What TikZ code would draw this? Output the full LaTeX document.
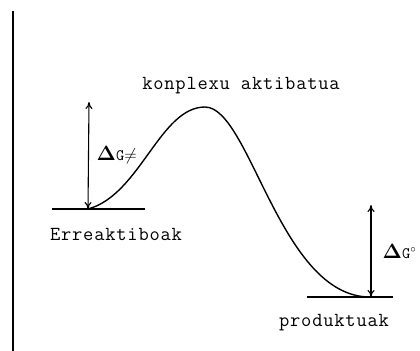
\documentclass[tikz,border=0pt]{standalone}
\usepackage{fontspec}
\usepackage{amsmath,amssymb}
\usetikzlibrary{arrows.meta}
\newfontfamily\twfont{Latin Modern Mono}[LetterSpace=4]
\newcommand{\tw}{\twfont\fontsize{20}{22}\selectfont}

\begin{document}
\begin{tikzpicture}[x=1bp,y=-1bp,line width=1.4pt,
    lbl/.style={inner sep=0pt,font=\tw},
    dg/.style={<->,line width=1.1pt,>={To[length=7pt,width=7pt]}}]
    \useasboundingbox (0,0) rectangle (420,351);

    % energy axis
    \draw[line width=2.2pt] (13,11) -- (13,351);

    % levels
    \coordinate (react) at (88,209);
    \coordinate (peak) at (205,107);
    \coordinate (prod) at (370,297);
    \draw[line width=1.6pt] (52,209) -- (145,209);
    \draw[line width=1.6pt] (307,297) -- (393,297);

    % reaction profile
    \draw (react) .. controls (140,195) and (160,107) .. (peak)
                  .. controls (250,107) and (280,297) .. (prod);

    % Delta G arrows
    \coordinate (reacttop) at (89,102);
    \coordinate (prodbase) at (371,297);
    \coordinate (prodtop) at (371,205);
    \draw[dg] (react) -- (reacttop);
    \draw[dg] (prodbase) -- (prodtop);

    \node[lbl] (komplex) at (241,86) {konplexu aktibatua};
    \node[lbl] (erreak) at (116,234) {Erreaktiboak};
    \node[lbl] (produk) at (334,323) {produktuak};
    \node[lbl,anchor=west] (dgact) at (96,155)
        {\fontsize{20}{20}\selectfont$\boldsymbol{\Delta}$\fontsize{16}{16}\selectfont G$\neq$};
    \node[lbl,anchor=west] (dgzero) at (382,252)
        {\fontsize{20}{20}\selectfont$\boldsymbol{\Delta}$\fontsize{16}{16}\selectfont G$^\circ$};
\end{tikzpicture}
\end{document}
